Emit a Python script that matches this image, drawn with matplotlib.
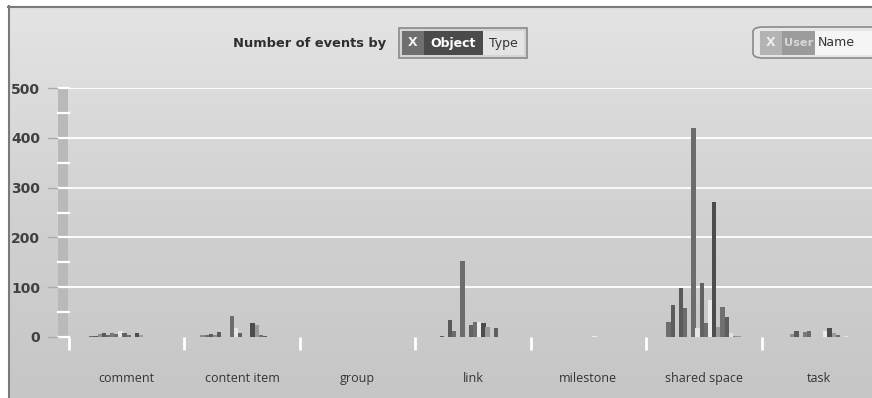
import numpy as np
import matplotlib
matplotlib.use("Agg")
import matplotlib.pyplot as plt
from matplotlib.patches import Rectangle, FancyBboxPatch
from matplotlib.lines import Line2D
from matplotlib.transforms import blended_transform_factory

# ---- data -------------------------------------------------------------
categories = ["comment", "content item", "group", "link", "milestone",
              "shared space", "task"]

# events per user (20 users) for each object type
comment      = [0, 3, 2, 6, 8, 4, 8, 6, 13, 9, 4, 0, 8, 4, 0, 0, 0, 0, 0, 0]
content_item = [4, 5, 6, 5, 10, 0, 0, 42, 18, 8, 0, 0, 28, 24, 4, 3, 0, 0, 0, 0]
group        = [0] * 20
link         = [0, 0, 2, 0, 34, 12, 0, 152, 0, 24, 30, 30, 28, 20, 0, 18, 0, 0, 0, 0]
milestone    = [0, 0, 0, 0, 1, 0, 0, 0, 0, 0, 0, 2, 0, 0, 1, 0, 0, 0, 0, 0]
shared_space = [0, 30, 64, 0, 98, 58, 0, 420, 18, 108, 28, 74, 272, 20, 60, 40, 8, 3, 2, 0]
task         = [0, 0, 0, 6, 12, 0, 10, 12, 0, 0, 0, 12, 18, 8, 4, 0, 2, 0, 0, 0]

y_ticks = [0, 100, 200, 300, 400, 500]

series_colors = ["#8a8a8a", "#6e6e6e", "#5c5c5c", "#8e8e8e", "#5a5a5a",
                 "#6c6c6c", "#7a7a7a", "#6c6c6c", "#e6e6e6", "#626262",
                 "#6e6e6e", "#ebebeb", "#4c4c4c", "#9a9a9a", "#707070",
                 "#5e5e5e", "#e2e2e2", "#8a8a8a", "#9a9a9a", "#767676"]

values = np.array([comment, content_item, group, link, milestone,
                   shared_space, task]).T          # shape (users, categories)

# ---- figure -------------------------------------------------------------
W, H = 872, 398
PT = 72 / 100  # points per pixel at dpi 100
fig = plt.figure(figsize=(W / 100, H / 100), dpi=100, facecolor="white")


def fx(x):
    return x / W


def fy(y):
    return 1 - y / H


# panel background with a soft vertical gradient
bg = fig.add_axes([fx(8), 0, 1 - fx(8), fy(6)])
grad = np.linspace(0, 1, 256).reshape(-1, 1)
bg.imshow(grad, aspect="auto", cmap=matplotlib.colors.LinearSegmentedColormap.from_list(
    "panel", ["#e4e4e4", "#d2d2d2", "#c6c6c6"]), extent=[0, 1, 0, 1], origin="upper")
bg.set_axis_off()

# panel border
fig.add_artist(Line2D([fx(8), 1], [fy(6.5), fy(6.5)], color="#7a7a7a", lw=1.5,
                      transform=fig.transFigure))
fig.add_artist(Line2D([fx(8.5), fx(8.5)], [0, fy(6)], color="#7a7a7a", lw=1.5,
                      transform=fig.transFigure))

# ---- header -------------------------------------------------------------
fig.text(fx(233), fy(43), "Number of events by", fontsize=9.4, weight="bold",
         color="#2e2e2e", va="center", ha="left")


def box(x0, y0, x1, y1, color, **kw):
    fig.add_artist(Rectangle((fx(x0), fy(y1)), fx(x1) - fx(x0), fy(y0) - fy(y1),
                             transform=fig.transFigure, facecolor=color, **kw))


# "Object Type" toggle
box(399, 28, 527, 58, "#d4d4d4", edgecolor="#8a8a8a", lw=1.2)
box(402, 31, 424, 55, "#6f6f6f", edgecolor="none")
box(424, 31, 483, 55, "#4b4b4b", edgecolor="none")
box(483, 31, 524, 55, "#e4e4e4", edgecolor="none")
fig.text(fx(413), fy(43), "X", fontsize=9, weight="bold", color="#f0f0f0",
         ha="center", va="center")
fig.text(fx(453.5), fy(43), "Object", fontsize=9, weight="bold", color="white",
         ha="center", va="center")
fig.text(fx(503.5), fy(43), "Type", fontsize=9, color="#333333",
         ha="center", va="center")

# "User Name" toggle (runs off the right edge)
fig.add_artist(FancyBboxPatch((fx(753), fy(58)), fx(140), fy(0) - fy(31),
                              boxstyle="round,pad=0,rounding_size=0.012",
                              transform=fig.transFigure, facecolor="#e6e6e6",
                              edgecolor="#8a8a8a", lw=1.2))
box(760, 31, 782, 55, "#b3b3b3", edgecolor="none")
box(782, 31, 815, 55, "#9b9b9b", edgecolor="none")
box(815, 31, 872, 55, "#f5f5f5", edgecolor="none")
fig.text(fx(771), fy(43), "X", fontsize=9, weight="bold", color="#eeeeee",
         ha="center", va="center")
fig.text(fx(798.5), fy(43), "User", fontsize=8.2, weight="bold", color="#d8d8d8",
         ha="center", va="center")
fig.text(fx(818), fy(43), "Name", fontsize=9, color="#333333",
         ha="left", va="center")

# ---- chart area ---------------------------------------------------------
ax = fig.add_axes([fx(69), fy(337), (877 - 69) / W, (337 - 88) / H])
ax.set_facecolor("none")
ax.set_xlim(0, len(categories))
ax.set_ylim(0, 500)
for s in ax.spines.values():
    s.set_visible(False)

# horizontal grid lines
for t in y_ticks[1:]:
    ax.axhline(t, color="white", lw=1.3, zorder=1)

# grouped columns
n_series = values.shape[0]
group_frac = 0.72
bw = group_frac / n_series
centers = np.arange(len(categories)) + 0.5
for i in range(n_series):
    xs = centers + (i - (n_series - 1) / 2) * bw
    ax.bar(xs, values[i], width=bw * 1.05, color=series_colors[i],
           edgecolor="none", zorder=3)

# y-axis gutter with white minor marks
tr = blended_transform_factory(fig.transFigure, ax.transData)
ax.add_patch(Rectangle((fx(58), 0), fx(10), 500, transform=tr,
                       facecolor="#b9b9b9", edgecolor="none", clip_on=False, zorder=2))
for t in range(0, 501, 50):
    ax.add_line(Line2D([fx(58), fx(68.5)], [t, t], transform=tr, color="white",
                       lw=1.6, clip_on=False, zorder=4))
for t in y_ticks:
    ax.add_line(Line2D([fx(48), fx(57)], [t, t], transform=tr, color="#ababab",
                       lw=1.0, clip_on=False, zorder=4))

ax.set_yticks(y_ticks)
ax.set_yticklabels([str(t) for t in y_ticks])
ax.tick_params(axis="y", length=0, pad=29 * PT, labelsize=10, labelcolor="#404040")
for lbl in ax.get_yticklabels():
    lbl.set_fontweight("bold")

# category boundaries and labels
ax.set_xticks(np.arange(len(categories) + 1))
ax.set_xticklabels([])
ax.tick_params(axis="x", which="major", direction="out", length=13 * PT, width=2,
               color="white", pad=0)
ax.set_xticks(centers, minor=True)
ax.set_xticklabels(categories, minor=True, family="Open Sans", fontsize=9,
                   color="#333333")
ax.tick_params(axis="x", which="minor", length=0, pad=35 * PT)

fig.savefig("out.png", dpi=100, facecolor="white")
